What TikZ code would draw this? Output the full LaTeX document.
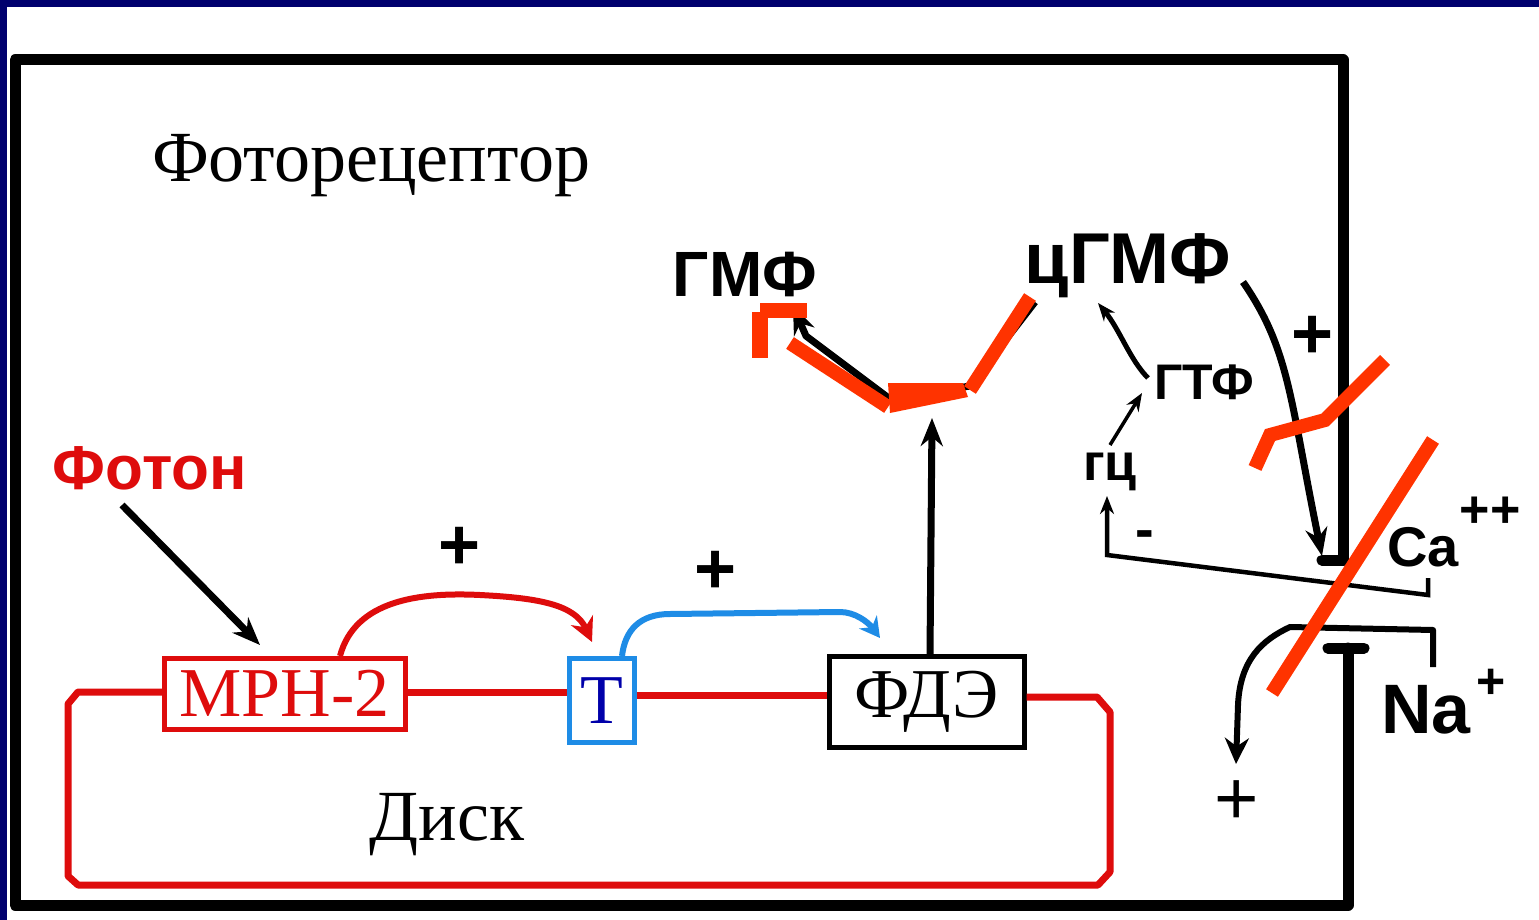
\documentclass[tikz,border=0pt]{standalone}
\usepackage{fontspec}
\setmainfont{Liberation Serif}
\newfontfamily\sansf{Liberation Sans}
\usetikzlibrary{arrows.meta}
\definecolor{navy}{RGB}{0,0,110}
\definecolor{diskred}{RGB}{222,12,12}
\definecolor{hlred}{RGB}{255,51,0}
\definecolor{tblue}{RGB}{30,140,230}
\definecolor{tdark}{RGB}{0,0,170}
\tikzset{
  serif/.style={font=\fontsize{72}{80}\selectfont, inner sep=0pt},
  bsans/.style={font=\sansf\bfseries\fontsize{#1}{#1}\selectfont, inner sep=0pt},
  bsans/.default=60,
  membrane/.style={draw=diskred, line width=7pt, line join=round},
  conn/.style={draw=black, line width=7pt, -{Stealth[length=28pt,width=22pt]}},
  thin/.style={draw=black, line width=4.5pt, -{Stealth[length=18pt,width=14pt]}},
  hl/.style={draw=hlred, line width=14pt},
  wall/.style={draw=black, line width=11pt, line cap=round, line join=round},
  box/.style={line width=4.5pt, fill=white, inner sep=0pt, anchor=north west},
}
\begin{document}
\begin{tikzpicture}[x=1pt,y=-1pt]
\useasboundingbox (0,0) rectangle (1539,920);
\fill[white] (0,0) rectangle (1539,920);
\fill[navy] (0,0) rectangle (7,920);
\fill[navy] (0,0) rectangle (1539,7);
% cell wall
\draw[wall] (1322,560) -- (1343,560) -- (1343,60) -- (15,60) -- (15,905) -- (1348,905) -- (1348,648);
\draw[wall] (1328,648) -- (1364,648);
% texts
\node[serif] (title) at (371,166) {Фоторецептор};
\node[bsans=64] (gmf) at (745,274) {ГМФ};
\node[bsans=72] (cgmf) at (1128,266) {цГМФ};
\node[bsans=50] (gtf) at (1204,382) {ГТФ};
\node[bsans=52] (gc) at (1110,472) {гц};
\node[bsans=62, text=diskred] (photon) at (150,468) {Фотон};
\node[bsans=72] (p1) at (460,548) {+};
\node[bsans=72] (p2) at (716,572) {+};
\node[bsans=72] (p3) at (1313,337) {+};
\node[font=\sansf\fontsize{76}{76}\selectfont, inner sep=0pt] (p4) at (1237,803) {+};
\node[bsans=56] (m1) at (1145,540) {-};
\node[bsans=56, anchor=west] (ca) at (1387,547) {Ca};
\node[bsans=52] (casup) at (1490,512) {++};
\node[bsans=70, anchor=west] (na) at (1381,710) {Na};
\node[bsans=50] (nasup) at (1491,684) {+};
\node[serif] (disk) at (447,825) {Диск};
% boxes
\node[box, draw=diskred, minimum width=241pt, minimum height=71pt] (mrn) at (162,656) {};
\node[font=\fontsize{70}{70}\selectfont, text=diskred, inner sep=0pt] (mrnt) at (mrn.center) {МРН-2};
\node[box, draw=tblue, minimum width=65pt, minimum height=84pt] (tb) at (567,656) {};
\node[font=\fontsize{70}{70}\selectfont, text=tdark, inner sep=0pt] (tt) at (tb.center) {Т};
\node[box, draw=black, minimum width=195pt, minimum height=91pt] (fde) at (827,654) {};
\node[font=\fontsize{70}{70}\selectfont, inner sep=0pt] (fdet) at (fde.center) {ФДЭ};
% disk membrane
\draw[membrane] (mrn.west |- 0,692) -- (78,692) -- (68,704) -- (68,876) -- (78,885) -- (1098,885) -- (1110,872) -- (1110,712) -- (1097,697) -- (fde.east |- 0,697);
\draw[membrane] (mrn.east |- 0,692) -- (tb.west |- 0,692);
\draw[membrane] (tb.east |- 0,695) -- (fde.west |- 0,695);
% arrows
\coordinate (ph1) at (122,505);
\coordinate (ph2) at (260,645);
\draw[conn] (ph1) -- (ph2);
\coordinate (ra) at (340,656);
\coordinate (rb) at (592,642);
\draw[draw=diskred, line width=6pt, -{Stealth[length=24pt,width=24pt]}] (ra) .. controls (355,600) and (420,592) .. (480,595) .. controls (540,598) and (575,605) .. (rb);
\coordinate (ba) at (622,656);
\coordinate (bb) at (880,638);
\draw[draw=tblue, line width=6pt, -{Stealth[length=20pt,width=22pt]}] (ba) .. controls (625,630) and (640,614) .. (670,614) -- (840,612) .. controls (855,612) and (868,622) .. (bb);
\coordinate (up) at (932,418);
\draw[conn] (fde.north -| 930,0) -- (up);
% cGMP -> GMP
\coordinate (c1) at (1035,302);
\coordinate (g1) at (793,306);
\draw[conn, line join=round] (c1) -- (970,386) -- (890,399) -- (806,336) -- (g1);
% GTP -> cGMP
\coordinate (t1) at (1148,378);
\coordinate (t2) at (1098,303);
\draw[thin, line width=5pt] (t1) .. controls (1130,360) and (1120,330) .. (t2);
% gc -> GTP
\coordinate (s1) at (1110,445);
\coordinate (s2) at (1142,393);
\draw[thin, line width=3.5pt] (s1) -- (s2);
% Ca feedback
\coordinate (f1) at (1428,578);
\coordinate (f2) at (1107,496);
\draw[thin] (f1) -- (1428,595) -- (1107,555) -- (f2);
% cGMP -> channel
\coordinate (k1) at (1243,282);
\coordinate (k2) at (1322,556);
\draw[conn] (k1) .. controls (1290,350) and (1290,400) .. (k2);
% Na channel
\coordinate (n1) at (1433,667);
\coordinate (n2) at (1236,764);
\draw[draw=black, line width=6pt, line join=round, -{Stealth[length=26pt,width=24pt]}] (n1) -- (1433,630) -- (1290,627) .. controls (1262,640) and (1240,660) .. (1238,705) -- (n2);
% red highlight marks
\draw[hl] (1030,297) -- (970,390);
\fill[hlred] (888,383) -- (963,383) -- (968,397) -- (890,413) -- cycle;
\draw[hl] (888,407) -- (790,343);
\fill[hlred] (760,303) rectangle (807,318);
\fill[hlred] (752,312) rectangle (768,358);
\draw[hl, line join=miter] (1385,360) -- (1325,420) -- (1270,435) -- (1255,468);
\draw[hl] (1433,440) -- (1272,693);
\end{tikzpicture}
\end{document}
